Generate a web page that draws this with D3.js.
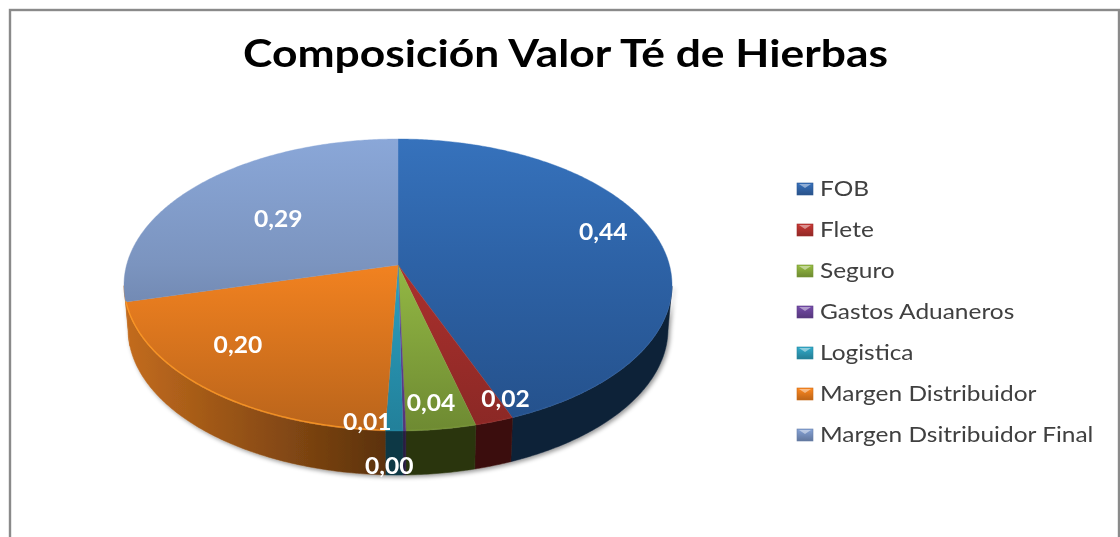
<!DOCTYPE html>
<html lang="es">
<head>
<meta charset="utf-8">
<title>Composición Valor Té de Hierbas</title>
<script src="https://cdn.jsdelivr.net/npm/d3@7"></script>
<style>
html,body{margin:0;padding:0;background:#fff;overflow:hidden}
svg{display:block}
text{font-family:Lato,"Open Sans",sans-serif}
</style>
</head>
<body>
<svg id="chart" width="1120" height="537"></svg>
<script>
// ---- data ----
const titleText = "Composición Valor Té de Hierbas";
const categories = ["FOB","Flete","Seguro","Gastos Aduaneros","Logistica","Margen Distribuidor","Margen Dsitribuidor Final"];
const values = [0.44,0.02,0.036,0.0015,0.009,0.2035,0.29];

// ---- styles ----
const topLight  = ["#3672bc","#c03531","#a0cc4a","#7a4fa8","#35b4d8","#f28220","#8aa7d8"];
const topMid    = ["#2d62a6","#ab302d","#93b844","#6a45a0","#2ca0c0","#f28220","#7b94bf"];
const topDark   = ["#24508a","#8a2825","#6e8a32","#553578","#22809a","#b9641b","#56698f"];
const sideLight = ["#10243f","#3e0f0b","#2f3a12","#2b1a42","#0e3c48","#c26b1d","#c26b1d"];
const sideDark  = ["#0f2238","#3a0e0a","#2b3510","#2b1a42","#0e3845","#5c320c","#5c320c"];
const rimOpacity = [0.12,0.1,0.1,0.1,0.1,0.8,0];
const legendColor = ["#2f5f9e","#a82f2c","#7f9f38","#63408f","#2a90ab","#d9731b","#7088b4"];
// label offsets from the slice's reference point
const labelNudge = [[22,-15],[43,29],[4,28],[-13,90],[-28,46],[-31,-4],[22,12]];

// ---- layout ----
const cx = 398, rimCy = 285, rimRy = 146, rimRx = 274;
const baseCy = 329, baseRx = 270;
const tilt = 0.137;   // perspective shift of the pie's apex
const labelR = 0.7;

const xTop  = d3.scaleLinear().domain([-1,1]).range([cx-rimRx, cx+rimRx]);
const yTop  = d3.scaleLinear().domain([-1,1]).range([rimCy+rimRy, rimCy-rimRy]);
const xBase = d3.scaleLinear().domain([-1,1]).range([cx-baseRx, cx+baseRx]);
const yBase = d3.scaleLinear().domain([-1,1]).range([baseCy+rimRy, baseCy-rimRy]);

// perspective map from the flat disc to the tilted one
function project(angle, r){
  const u = r*Math.sin(angle), v = r*Math.cos(angle);
  const den = 1 + tilt*v;
  return [u*Math.sqrt(1-tilt*tilt)/den, (v+tilt)/den];
}
function samples(a0,a1){
  const n = Math.max(2, Math.ceil((a1-a0)/0.01));
  return d3.range(n+1).map(i => project(a0+(a1-a0)*i/n, 1));
}

const pie = d3.pie().sort(null).value(d=>d);
const arcs = pie(values);
const svg = d3.select("#chart");
const line = d3.line();
const defs = svg.append("defs");

arcs.forEach((a,i)=>{
  const g = defs.append("linearGradient").attr("id","top"+i).attr("gradientUnits","userSpaceOnUse")
    .attr("x1",0).attr("x2",0).attr("y1",yTop(1)).attr("y2",yTop(-1));
  g.append("stop").attr("offset",0).attr("stop-color",topLight[i]);
  g.append("stop").attr("offset",0.43).attr("stop-color",topMid[i]);
  g.append("stop").attr("offset",1).attr("stop-color",topDark[i]);
  const s = defs.append("linearGradient").attr("id","side"+i).attr("gradientUnits","userSpaceOnUse")
    .attr("x1",xBase(-1)).attr("x2",xBase(-0.05)).attr("y1",0).attr("y2",0);
  s.append("stop").attr("offset",0).attr("stop-color",sideLight[i]);
  s.append("stop").attr("offset",1).attr("stop-color",sideDark[i]);
  const m = defs.append("linearGradient").attr("id","key"+i).attr("x1",0).attr("x2",0).attr("y1",0).attr("y2",1);
  m.append("stop").attr("offset",0).attr("stop-color",d3.color(legendColor[i]).brighter(0.5));
  m.append("stop").attr("offset",1).attr("stop-color",d3.color(legendColor[i]).darker(0.4));
});
const shadow = defs.append("filter").attr("id","shadow").attr("x","-5%").attr("y","-5%").attr("width","110%").attr("height","115%");
shadow.append("feDropShadow").attr("dx",2).attr("dy",2).attr("stdDeviation",2).attr("flood-color","#000").attr("flood-opacity",0.4);
const soft = defs.append("filter").attr("id","soft");
soft.append("feGaussianBlur").attr("stdDeviation",0.45);

// frame
svg.append("rect").attr("x",10).attr("y",10).attr("width",1109).attr("height",620)
  .attr("fill","#fff").attr("stroke","#8a8a8a").attr("stroke-width",2.4);

// title
svg.append("text").attr("x",243).attr("y",67).attr("font-size",38).attr("font-weight",700)
  .attr("fill","#000").attr("textLength",645).attr("lengthAdjust","spacingAndGlyphs")
  .attr("filter","url(#soft)").text(titleText);

// walls
const walls = svg.append("g").attr("filter","url(#shadow)");
walls.selectAll("path").data(arcs).join("path")
  .attr("d",a=>{
    const pts = samples(a.startAngle,a.endAngle).filter(p=>p[1]<=0);
    if(!pts.length) return null;
    const upper = pts.map(p=>[xTop(p[0]),yTop(p[1])]);
    const lower = pts.slice().reverse().map(p=>[xBase(p[0]),yBase(p[1])]);
    return line(upper.concat(lower))+"Z";
  })
  .attr("fill",(a,i)=>`url(#side${i})`)
  .attr("stroke",(a,i)=>`url(#side${i})`).attr("stroke-width",0.5);

// top surface
const apex = project(0,0);
svg.append("g").selectAll("path").data(arcs).join("path")
  .attr("d",a=>{
    const rim = samples(a.startAngle,a.endAngle).map(p=>[xTop(p[0]),yTop(p[1])]);
    return line([[xTop(apex[0]),yTop(apex[1])]].concat(rim))+"Z";
  })
  .attr("fill",(a,i)=>`url(#top${i})`)
  .attr("stroke",(a,i)=>`url(#top${i})`).attr("stroke-width",0.4);

// rim highlight
svg.append("g").selectAll("path").data(arcs).join("path")
  .attr("d",a=>{
    const pts = samples(a.startAngle,a.endAngle).filter(p=>p[1]<=0);
    return pts.length>1 ? line(pts.map(p=>[xTop(p[0]),yTop(p[1])-0.8])) : null;
  })
  .attr("fill","none").attr("stroke",(a,i)=>d3.color(topMid[i]).brighter(0.5))
  .attr("stroke-width",1.4).attr("opacity",(a,i)=>rimOpacity[i]);

// value labels
const fmt = v => d3.format(".2f")(v).replace(".",",");
svg.append("g").selectAll("text").data(arcs).join("text")
  .attr("transform",(a,i)=>{
    const p = project((a.startAngle+a.endAngle)/2, labelR);
    return `translate(${xTop(p[0])+labelNudge[i][0]},${yTop(p[1])+labelNudge[i][1]+8}) scale(1.07,1)`;
  })
  .attr("text-anchor","middle").attr("font-size",23).attr("font-weight",700)
  .attr("fill","#fff").attr("filter","url(#soft)").text(a=>fmt(a.value));

// legend
const yLegend = d3.scalePoint().domain(categories).range([189,435]);
const items = svg.append("g").selectAll("g").data(categories).join("g")
  .attr("transform",d=>`translate(797,${yLegend(d)})`);
items.append("rect").attr("x",0).attr("y",-6).attr("width",16).attr("height",12)
  .attr("fill",(d,i)=>`url(#key${i})`).attr("stroke",(d,i)=>d3.color(legendColor[i]).darker(0.2)).attr("stroke-width",0.6);
items.append("path").attr("d",line([[2,-5],[14,-5],[8,-1]])).attr("fill","#fff").attr("opacity",0.45);
items.append("text").attr("transform","translate(23,7) scale(1.165,1)")
  .attr("font-size",21).attr("fill","#404040").attr("filter","url(#soft)").text(d=>d);
</script>
</body>
</html>
